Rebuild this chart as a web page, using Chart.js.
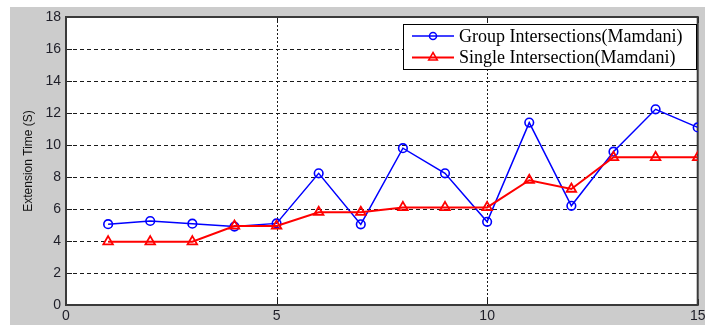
<!DOCTYPE html>
<html>
<head>
<meta charset="utf-8">
<script src="https://cdn.jsdelivr.net/npm/chart.js@4/dist/chart.umd.min.js"></script>
<style>
  html, body { margin: 0; padding: 0; background: #ffffff; }
  #wrap { width: 705px; height: 325px; position: relative; }
</style>
</head>
<body>
<div id="wrap"><canvas id="chart" width="705" height="325"></canvas></div>
<script>
// Intersection index (x axis)
const intersections = [1, 2, 3, 4, 5, 6, 7, 8, 9, 10, 11, 12, 13, 14, 15];

// Extension time in seconds
const groupMamdani  = [5.05, 5.25, 5.08, 4.9, 5.1, 8.23, 5.04, 9.8, 8.23, 5.2, 11.4, 6.2, 9.58, 12.23, 11.1];
const singleMamdani = [3.96, 3.96, 3.96, 4.94, 4.94, 5.8, 5.8, 6.1, 6.1, 6.1, 7.8, 7.25, 9.23, 9.23, 9.23];

const seriesLabels = ['Group Intersections(Mamdani)', 'Single Intersection(Mamdani)'];
const yTitle = 'Extension Time (S)';

const xTicks = [0, 5, 10, 15];
const yTicks = [0, 2, 4, 6, 8, 10, 12, 14, 16, 18];

const toPoints = ys => intersections.map((x, i) => ({ x: x, y: ys[i] }));

// Figure background, white axes face, dashed grid, box, inward tick marks and legend
const matlabFrame = {
  id: 'matlabFrame',
  beforeDraw(chart) {
    const { ctx, chartArea: a, width, height } = chart;
    ctx.save();
    ctx.fillStyle = '#ffffff';
    ctx.fillRect(0, 0, width, height);
    ctx.fillStyle = '#cccccc';
    ctx.fillRect(10, 7, width - 10, height - 7);
    ctx.fillStyle = '#ffffff';
    ctx.fillRect(a.left, a.top, a.right - a.left, a.bottom - a.top);
    ctx.restore();
  },
  beforeDatasetsDraw(chart) {
    const { ctx, chartArea: a, scales } = chart;
    ctx.save();
    ctx.strokeStyle = '#1a1a1a';
    ctx.lineWidth = 1;
    // dashed grid lines at the inner ticks
    ctx.setLineDash([4, 3]);
    ctx.beginPath();
    yTicks.slice(1, -1).forEach(v => {
      const y = Math.round(scales.y.getPixelForValue(v)) + 0.5;
      ctx.moveTo(a.left, y); ctx.lineTo(a.right, y);
    });
    ctx.stroke();
    ctx.setLineDash([2, 2]);
    ctx.beginPath();
    xTicks.slice(1, -1).forEach(v => {
      const x = Math.round(scales.x.getPixelForValue(v)) + 0.5;
      ctx.moveTo(x, a.top); ctx.lineTo(x, a.bottom);
    });
    ctx.stroke();
    ctx.setLineDash([]);
    // inward tick marks
    const len = 6;
    ctx.beginPath();
    yTicks.forEach(v => {
      const y = Math.round(scales.y.getPixelForValue(v)) + 0.5;
      ctx.moveTo(a.left, y); ctx.lineTo(a.left + len, y);
      ctx.moveTo(a.right, y); ctx.lineTo(a.right - len, y);
    });
    xTicks.forEach(v => {
      const x = Math.round(scales.x.getPixelForValue(v)) + 0.5;
      ctx.moveTo(x, a.bottom); ctx.lineTo(x, a.bottom - len);
      ctx.moveTo(x, a.top); ctx.lineTo(x, a.top + len);
    });
    ctx.stroke();
    ctx.strokeStyle = '#3a3a3a';
    ctx.lineWidth = 2;
    ctx.strokeRect(a.left, a.top, a.right - a.left, a.bottom - a.top);
    ctx.restore();
  },
  afterDraw(chart) {
    const { ctx } = chart;
    const box = { x: 403, y: 24, w: 293, h: 45 };
    ctx.save();
    ctx.fillStyle = '#ffffff';
    ctx.fillRect(box.x, box.y, box.w, box.h);
    ctx.strokeStyle = '#000000';
    ctx.lineWidth = 1;
    ctx.strokeRect(box.x + 0.5, box.y + 0.5, box.w, box.h);
    const rows = [36, 57.5];
    chart.data.datasets.forEach((ds, i) => {
      const y = rows[i];
      ctx.strokeStyle = ds.borderColor;
      ctx.lineWidth = ds.borderWidth;
      ctx.beginPath();
      ctx.moveTo(412, y); ctx.lineTo(454, y);
      ctx.stroke();
      ctx.lineWidth = 1.5;
      ctx.beginPath();
      if (ds.pointStyle === 'triangle') {
        const r = 5;
        ctx.moveTo(433, y - r);
        ctx.lineTo(433 + r * 0.87, y + r * 0.5);
        ctx.lineTo(433 - r * 0.87, y + r * 0.5);
        ctx.closePath();
      } else {
        ctx.arc(433, y, 3.5, 0, Math.PI * 2);
      }
      ctx.stroke();
      ctx.fillStyle = '#000000';
      ctx.font = '18px "Liberation Serif", "Times New Roman", serif';
      ctx.textBaseline = 'middle';
      ctx.textAlign = 'left';
      ctx.fillText(ds.label, 459, y + 1);
    });
    ctx.restore();
  }
};

new Chart(document.getElementById('chart'), {
  type: 'line',
  data: {
    datasets: [
      {
        label: seriesLabels[0],
        data: toPoints(groupMamdani),
        borderColor: '#0000ff',
        borderWidth: 1.5,
        pointStyle: 'circle',
        pointRadius: 4.3,
        pointBorderWidth: 1.6,
        pointBackgroundColor: 'rgba(0,0,0,0)',
        pointBorderColor: '#0000ff',
        tension: 0,
        order: 1
      },
      {
        label: seriesLabels[1],
        data: toPoints(singleMamdani),
        borderColor: '#ff0000',
        borderWidth: 2,
        pointStyle: 'triangle',
        pointRadius: 5.5,
        pointBorderWidth: 1.8,
        pointBackgroundColor: 'rgba(0,0,0,0)',
        pointBorderColor: '#ff0000',
        tension: 0,
        order: 0
      }
    ]
  },
  options: {
    responsive: false,
    animation: false,
    devicePixelRatio: 1,
    layout: { padding: { left: 0, right: 3, top: 17, bottom: 0 } },
    plugins: {
      legend: { display: false },
      tooltip: { enabled: false }
    },
    scales: {
      x: {
        type: 'linear',
        min: 0,
        max: 15,
        afterBuildTicks: s => { s.ticks = xTicks.map(v => ({ value: v })); },
        afterFit: s => { s.height = 20; s.paddingLeft = 0; s.paddingRight = 0; },
        ticks: {
          padding: 3,
          maxRotation: 0,
          autoSkip: false,
          color: '#1e1e28',
          font: { family: '"Liberation Sans", Arial, sans-serif', size: 14 }
        },
        grid: { drawTicks: false, drawOnChartArea: false },
        border: { display: false }
      },
      y: {
        min: 0,
        max: 18,
        afterBuildTicks: s => { s.ticks = yTicks.map(v => ({ value: v })); },
        afterFit: s => { s.width = 66; s.paddingTop = 0; s.paddingBottom = 0; },
        ticks: {
          padding: 5,
          autoSkip: false,
          color: '#1e1e28',
          font: { family: '"Liberation Sans", Arial, sans-serif', size: 14 }
        },
        grid: { drawTicks: false, drawOnChartArea: false },
        border: { display: false },
        title: {
          display: true,
          text: yTitle,
          color: '#111',
          padding: { top: 21, bottom: 0 },
          font: { family: '"Liberation Sans", Arial, sans-serif', size: 12 }
        }
      }
    }
  },
  plugins: [matlabFrame]
});
</script>
</body>
</html>
